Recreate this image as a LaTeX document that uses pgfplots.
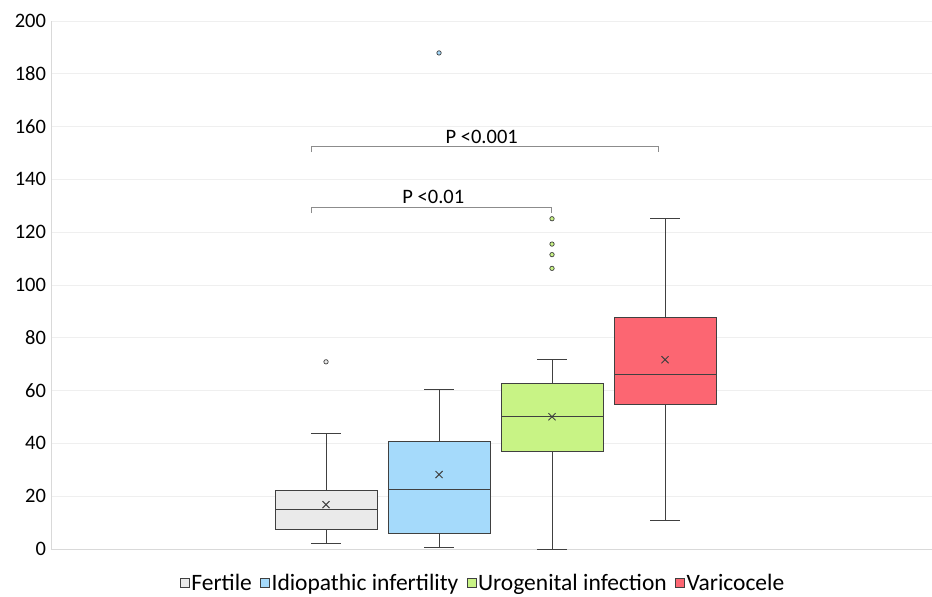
\documentclass[border=0pt]{standalone}
\usepackage{pgfplots}
\pgfplotsset{compat=1.18}
\usepgfplotslibrary{statistics}
\usepackage{fontspec}
\setmainfont{Carlito}
\definecolor{cF}{HTML}{EAEAEA}
\definecolor{cI}{HTML}{A5DAFB}
\definecolor{cU}{HTML}{C8F385}
\definecolor{cV}{HTML}{FC6672}
\definecolor{edge}{HTML}{404040}
\definecolor{gridc}{HTML}{EFEFEF}
\definecolor{axisc}{HTML}{D9D9D9}
\definecolor{brack}{HTML}{8C8C8C}
\begin{document}
\begin{tikzpicture}
\begin{axis}[
  scale only axis, width=881pt, height=528pt,
  xmin=-1.434, xmax=6.363, ymin=0, ymax=200,
  ytick={0,20,...,200}, xtick=\empty,
  ymajorgrids, grid style={draw=gridc, line width=0.8pt},
  axis x line*=bottom, axis y line*=left,
  axis line style={draw=axisc, line width=0.8pt},
  major tick length=0pt,
  tick label style={font=\fontsize{20.5}{20.5}\selectfont},
  yticklabel style={xshift=-1.5pt},
  /pgf/number format/assume math mode=true,
  clip=false,
  boxplot/draw direction=y,
  boxplot/box extend=0.9027,
  boxplot/whisker extend=0.265,
  boxplot/every average/.style={/tikz/mark=x,/tikz/mark size=5pt,/tikz/mark options={draw=black,line width=0.9pt}},
  legend columns=4,
  legend style={draw=none, fill=none, at={(axis description cs:0.4903,-0.0644)}, anchor=center,
    font=\fontsize{23.5}{24}\selectfont, /tikz/every even column/.append style={column sep=7pt},
    nodes={inner sep=1.5pt}},
  legend image code/.code={\draw[#1, line width=0.7pt] (0pt,-4.5pt) rectangle (9pt,4.5pt);},
]
\addplot[forget plot, draw=edge, fill=cF, line width=1pt, mark=*, mark size=2.2pt, mark options={fill=cF,draw=edge,line width=0.7pt},
  boxplot prepared={lower whisker=2.2, lower quartile=7.5, median=14.9, upper quartile=22.1, upper whisker=43.9, average=16.8, draw position=1}]
  coordinates {(0,70.9)};
\addplot[forget plot, draw=edge, fill=cI, line width=1pt, mark=*, mark size=2.2pt, mark options={fill=cI,draw=edge,line width=0.7pt},
  boxplot prepared={lower whisker=0.5, lower quartile=5.8, median=22.4, upper quartile=40.6, upper whisker=60.3, average=28.2, draw position=2}]
  coordinates {(0,187.9)};
\addplot[forget plot, draw=edge, fill=cU, line width=1pt, mark=*, mark size=2.2pt, mark options={fill=cU,draw=edge,line width=0.7pt},
  boxplot prepared={lower whisker=0, lower quartile=36.9, median=50.1, upper quartile=62.7, upper whisker=71.6, average=50.1, draw position=3}]
  coordinates {(0,125.1) (0,115.5) (0,111.5) (0,106.3)};
\addplot[forget plot, draw=edge, fill=cV, line width=1pt,
  boxplot prepared={lower whisker=10.7, lower quartile=54.8, median=66.2, upper quartile=87.7, upper whisker=125.1, average=71.7, draw position=4}]
  coordinates {};
\addlegendimage{fill=cF, draw=edge}\addlegendentry{Fertile}
\addlegendimage{fill=cI, draw=edge}\addlegendentry{Idiopathic infertility}
\addlegendimage{fill=cU, draw=edge}\addlegendentry{Urogenital infection}
\addlegendimage{fill=cV, draw=edge}\addlegendentry{Varicocele}
\draw[brack, line width=0.9pt] (axis cs:0.873,150.3) -- (axis cs:0.873,152.3) -- (axis cs:3.941,152.3) -- (axis cs:3.941,150.3);
\draw[brack, line width=0.9pt] (axis cs:0.873,127.2) -- (axis cs:0.873,129.2) -- (axis cs:2.997,129.2) -- (axis cs:2.997,127.2);
\node[font=\fontsize{20.5}{20.5}\selectfont] at (axis cs:2.378,155.9) {P <0.001};
\node[font=\fontsize{20.5}{20.5}\selectfont] at (axis cs:1.95,133.3) {P <0.01};
\end{axis}
\pgfresetboundingbox
\path[use as bounding box] ([shift={(-51pt,-48pt)}]current axis.south west) rectangle ([shift={(0pt,21pt)}]current axis.north east);
\end{tikzpicture}
\end{document}
